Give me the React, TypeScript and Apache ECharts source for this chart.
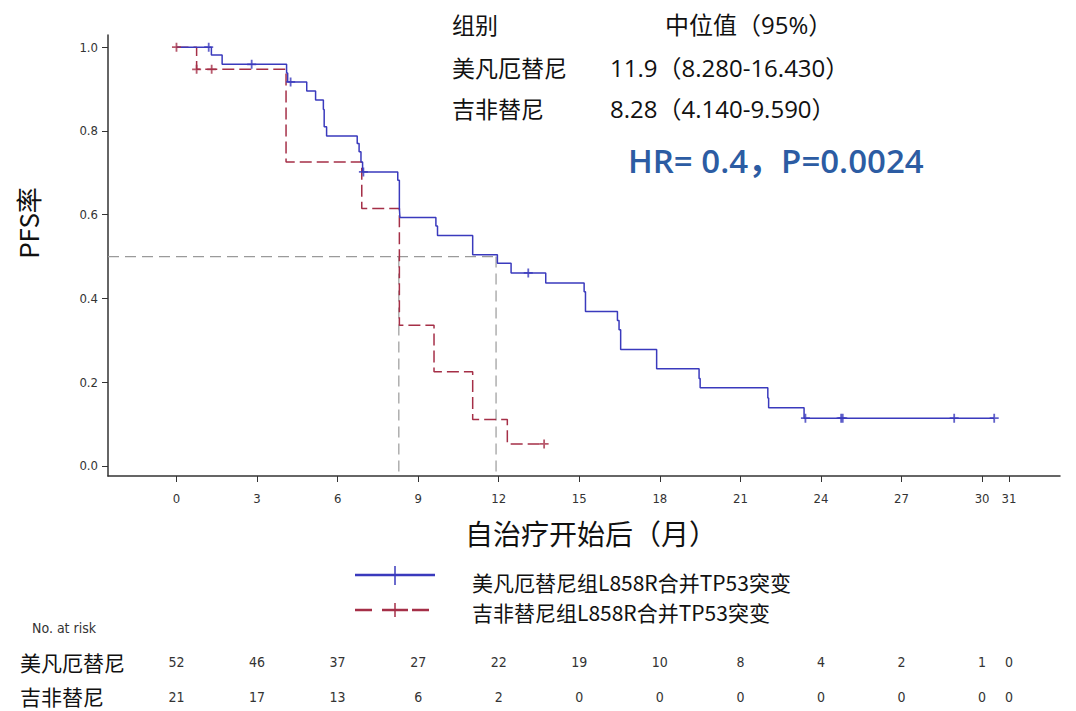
import React, { useEffect, useRef } from 'react';
import * as echarts from 'echarts';

const months = [0, 3, 6, 9, 12, 15, 18, 21, 24, 27, 30, 31];
const yTicks = [0, 0.2, 0.4, 0.6, 0.8, 1.0];
const riskMefan = [52, 46, 37, 27, 22, 19, 10, 8, 4, 2, 1, 0];
const riskGef = [21, 17, 13, 6, 2, 0, 0, 0, 0, 0, 0, 0];

const mefanTimes = [0, 1.3, 1.7, 4.1, 4.14, 4.85, 5.18, 5.47, 5.5, 5.59, 6.73, 6.8, 6.87, 6.93, 8.24, 8.3, 8.32, 9.66, 9.72, 11.03, 11.95, 12.46, 13.75, 15.18, 15.23, 16.42, 16.48, 16.54, 17.88, 19.46, 19.5, 22.02, 22.05, 23.37];
const mefanSurv = [1.0, 0.981, 0.959, 0.938, 0.917, 0.895, 0.874, 0.851, 0.81, 0.788, 0.77, 0.75, 0.726, 0.702, 0.682, 0.615, 0.593, 0.573, 0.55, 0.504, 0.484, 0.461, 0.437, 0.416, 0.369, 0.347, 0.325, 0.278, 0.232, 0.209, 0.187, 0.162, 0.139, 0.114];
const mefanCensorT = [1.2, 2.8, 4.25, 6.96, 13.1, 23.42, 24.75, 24.81, 28.96, 30.45];
const mefanCensorS = [1.0, 0.959, 0.917, 0.702, 0.461, 0.114, 0.114, 0.114, 0.114, 0.114];

const gefTimes = [0, 0.75, 4.08, 6.9, 8.3, 9.59, 11.03, 12.32];
const gefSurv = [1.0, 0.947, 0.726, 0.615, 0.336, 0.225, 0.111, 0.0525];
const gefCensorT = [0, 0.75, 1.31, 13.69];
const gefCensorS = [1.0, 0.947, 0.947, 0.0525];

const medianY = 0.5;
const medianMefan = 11.9;
const medianGef = 8.28;

const groupNames = ['美凡厄替尼', '吉非替尼'];
const legendNames = ['美凡厄替尼组L858R合并TP53突变', '吉非替尼组L858R合并TP53突变'];
const medianTexts = ['11.9（8.280-16.430）', '8.28（4.140-9.590）'];
const hrText = 'HR= 0.4，P=0.0024';

const X_MIN = -2.55;
const X_MAX = 32.9;
const Y_MIN = -0.024;
const Y_MAX = 1.029;

const BLUE = '#3a3abd';
const RED = '#a52f47';
const CJK = "'Noto Sans CJK SC', 'Noto Sans', sans-serif";
const LATIN_CJK = "'Open Sans', 'Noto Sans CJK SC', sans-serif";
const NARROW = "'Liberation Sans Narrow', 'DejaVu Sans Condensed', 'Roboto Condensed', 'Liberation Sans', sans-serif";
const PLUS = 'path://M4,0h2v4h4v2h-4v4h-2v-4h-4v-2h4z';

function stepPoints(times: number[], surv: number[], endT: number) {
  const pts: number[][] = [[times[0], surv[0]]];
  for (let i = 1; i < times.length; i++) {
    pts.push([times[i], surv[i - 1]]);
    pts.push([times[i], surv[i]]);
  }
  pts.push([endT, surv[surv.length - 1]]);
  return pts;
}

function zip(a: number[], b: number[]) {
  return a.map((v, i) => [v, b[i]]);
}

export default function App() {
  const ref = useRef<HTMLDivElement>(null);
  useEffect(() => {
    if (!ref.current) return;
    const chart = echarts.init(ref.current, null, { renderer: 'svg' });
    const grayLine = { color: '#9a9a9a', width: 1.2, type: [11, 6] as any };
    chart.setOption({
      animation: false,
      backgroundColor: '#ffffff',
      grid: { left: 108, right: 16, top: 35, bottom: 235 },
      xAxis: {
        type: 'value',
        min: X_MIN,
        max: X_MAX,
        splitLine: { show: false },
        axisLine: { onZero: false, lineStyle: { color: '#333', width: 1.5 } },
        axisTick: { customValues: months, length: 6, lineStyle: { color: '#333' } },
        axisLabel: { customValues: months, margin: 16, fontSize: 13, color: '#333', fontFamily: NARROW },
      },
      yAxis: {
        type: 'value',
        min: Y_MIN,
        max: Y_MAX,
        splitLine: { show: false },
        axisLine: { show: true, onZero: false, lineStyle: { color: '#333', width: 1.5 } },
        axisTick: { show: true, customValues: yTicks, length: 6, lineStyle: { color: '#333' } },
        axisLabel: {
          customValues: yTicks,
          margin: 10,
          fontSize: 13,
          color: '#333',
          fontFamily: NARROW,
          formatter: (v: number) => v.toFixed(1),
        },
      },
      series: [
        {
          type: 'line', data: [[X_MIN, medianY], [medianMefan, medianY]], showSymbol: false,
          lineStyle: grayLine, z: 1, silent: true,
        },
        {
          type: 'line', data: [[medianGef, medianY], [medianGef, Y_MIN]], showSymbol: false,
          lineStyle: grayLine, z: 1, silent: true,
        },
        {
          type: 'line', data: [[medianMefan, medianY], [medianMefan, Y_MIN]], showSymbol: false,
          lineStyle: grayLine, z: 1, silent: true,
        },
        {
          name: legendNames[1], type: 'line',
          data: stepPoints(gefTimes, gefSurv, gefCensorT[gefCensorT.length - 1]),
          showSymbol: false, lineStyle: { color: RED, width: 1.5, type: [12, 5] as any }, z: 2,
        },
        {
          name: legendNames[0], type: 'line',
          data: stepPoints(mefanTimes, mefanSurv, mefanCensorT[mefanCensorT.length - 1]),
          showSymbol: false, lineStyle: { color: BLUE, width: 1.5 }, z: 3,
        },
        {
          type: 'scatter', data: zip(gefCensorT, gefCensorS), symbol: PLUS, symbolSize: 9,
          itemStyle: { color: RED }, z: 4,
        },
        {
          type: 'scatter', data: zip(mefanCensorT, mefanCensorS), symbol: PLUS, symbolSize: 9,
          itemStyle: { color: BLUE }, z: 5,
        },
      ],
    });

    const px = (m: number) => chart.convertToPixel({ xAxisIndex: 0 }, m) as number;
    const elements: any[] = [];
    const txt = (x: number, y: number, text: string, size: number, opts: any = {}) => ({
      type: 'text', x, y, silent: true,
      style: {
        text, fontSize: size, fontFamily: opts.font || CJK, fill: opts.fill || '#111',
        align: opts.align || 'left', verticalAlign: 'middle', fontWeight: opts.weight || 'normal',
      },
      rotation: opts.rotation || 0,
    });
    // header table
    elements.push(txt(452, 24, '组别', 23));
    elements.push(txt(665, 24, '中位值（95%）', 24, { font: LATIN_CJK }));
    elements.push(txt(452, 67, groupNames[0], 23));
    elements.push(txt(610, 67, medianTexts[0], 24, { font: LATIN_CJK }));
    elements.push(txt(452, 108, groupNames[1], 23));
    elements.push(txt(610, 108, medianTexts[1], 24, { font: LATIN_CJK }));
    elements.push(txt(628, 160, hrText, 33, { fill: '#2c5ca3', weight: 600, font: LATIN_CJK }));
    // axis titles
    elements.push(txt(27, 223, 'PFS率', 26, { align: 'center', rotation: Math.PI / 2 }));
    elements.push(txt(591, 533, '自治疗开始后（月）', 28, { align: 'center' }));
    // legend
    elements.push({ type: 'line', silent: true, shape: { x1: 355, y1: 575, x2: 435, y2: 575 }, style: { stroke: BLUE, lineWidth: 2.5 } });
    elements.push({ type: 'line', silent: true, shape: { x1: 395, y1: 566, x2: 395, y2: 585 }, style: { stroke: BLUE, lineWidth: 1.5 } });
    elements.push({ type: 'line', silent: true, shape: { x1: 355, y1: 610, x2: 372, y2: 610 }, style: { stroke: RED, lineWidth: 2.5 } });
    elements.push({ type: 'line', silent: true, shape: { x1: 382, y1: 610, x2: 408, y2: 610 }, style: { stroke: RED, lineWidth: 2.5 } });
    elements.push({ type: 'line', silent: true, shape: { x1: 412, y1: 610, x2: 429, y2: 610 }, style: { stroke: RED, lineWidth: 2.5 } });
    elements.push({ type: 'line', silent: true, shape: { x1: 395, y1: 603, x2: 395, y2: 617 }, style: { stroke: RED, lineWidth: 1.5 } });
    elements.push(txt(472, 582, legendNames[0], 21));
    elements.push(txt(472, 612, legendNames[1], 21));
    // risk table
    elements.push(txt(32, 628, 'No. at risk', 14, { font: NARROW, fill: '#333' }));
    elements.push(txt(20, 662, groupNames[0], 21));
    elements.push(txt(20, 696, groupNames[1], 21));
    months.forEach((m, i) => {
      const x = px(m);
      elements.push(txt(x, 662, String(riskMefan[i]), 14, { font: NARROW, fill: '#333', align: 'center' }));
      elements.push(txt(x, 697, String(riskGef[i]), 14, { font: NARROW, fill: '#333', align: 'center' }));
    });
    chart.setOption({ graphic: { elements } });

    return () => chart.dispose();
  }, []);
  return (
    <div
      ref={ref}
      style={{ position: 'absolute', left: 0, top: 0, width: 1076, height: 711 }}
    />
  );
}
